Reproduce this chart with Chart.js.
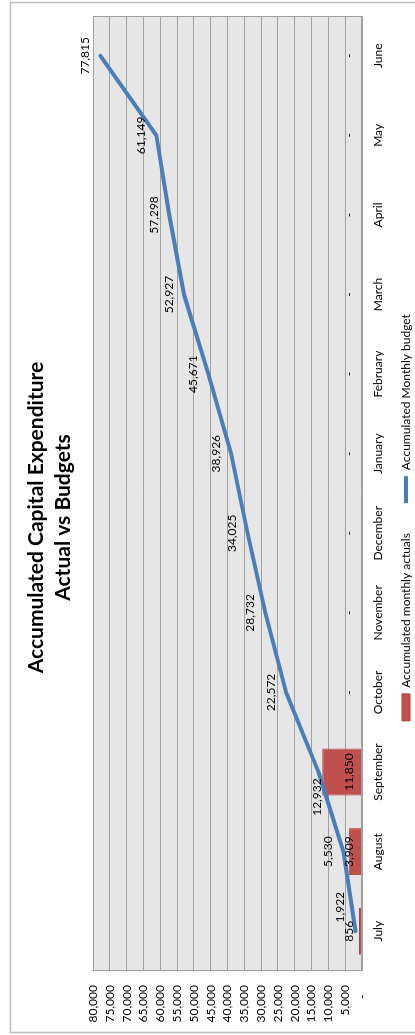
<!DOCTYPE html>
<html><head><meta charset="utf-8">
<script src="https://cdn.jsdelivr.net/npm/chart.js@4.4.1/dist/chart.umd.min.js"></script>
<style>
html,body{margin:0;padding:0;background:#fff;overflow:hidden;width:415px;height:1035px;}
#wrap{position:absolute;left:0;top:0;width:1035px;height:454px;transform-origin:0 0;transform:translate(0,1035px) rotate(-90deg);}
canvas{display:block;}
</style></head><body>
<div id="wrap"><canvas id="c" width="1035" height="454"></canvas></div>
<script>
const categories = ['July','August','September','October','November','December','January','February','March','April','May','June'];
const actuals = [856, 3909, 11850, 0, 0, 0, 0, 0, 0, 0, 0, 0];
const budget = [1922, 5530, 12932, 22572, 28732, 34025, 38926, 45671, 52927, 57298, 61149, 77815];
const valueMin = 0, valueMax = 80000, valueStep = 5000;
const titleLines = ['Accumulated Capital Expenditure', 'Actual vs Budgets'];
const seriesNames = ['Accumulated monthly actuals', 'Accumulated Monthly budget'];
const budgetLabelPos = ['aboveRight','above','left','above','above','above','above','above','above','above','above','above'];

const fmt = v => v === 0 ? '-' : v.toLocaleString('en-US');
const posOffsets = { above: [0, -15], aboveRight: [24, -15], left: [-25, -1] };

const decor = {
  id: 'decor',
  afterLayout(chart) {
    const l = chart.legend;
    if (l) { l.top -= 32; l.bottom -= 32; }
  },
  beforeDraw(chart) {
    const ctx = chart.ctx, a = chart.chartArea;
    ctx.save();
    ctx.fillStyle = '#fff';
    ctx.fillRect(0, 0, chart.width, chart.height);
    ctx.strokeStyle = '#bdbdbd';
    ctx.lineWidth = 1.5;
    ctx.strokeRect(2.5, 10.5, 1030, 480);
    ctx.fillStyle = '#e6e6e6';
    ctx.fillRect(a.left, a.top, a.right - a.left, a.bottom - a.top);
    ctx.restore();
  },
  afterDatasetsDraw(chart) {
    const ctx = chart.ctx, a = chart.chartArea;
    ctx.save();
    ctx.strokeStyle = '#a0a0a0';
    ctx.lineWidth = 1;
    ctx.strokeRect(a.left + 0.5, a.top + 0.5, a.right - a.left - 1, a.bottom - a.top - 1);
    ctx.font = '12px Lato';
    ctx.fillStyle = '#000';
    ctx.textAlign = 'center';
    ctx.textBaseline = 'middle';
    const base = chart.scales.y.getPixelForValue(0);
    chart.getDatasetMeta(1).data.forEach((el, i) => {
      ctx.fillText(fmt(actuals[i]), el.x, base - 13);
    });
    chart.getDatasetMeta(0).data.forEach((el, i) => {
      const o = posOffsets[budgetLabelPos[i]];
      ctx.fillText(fmt(budget[i]), el.x + o[0], el.y + o[1]);
    });
    ctx.restore();
  }
};

new Chart(document.getElementById('c'), {
  type: 'bar',
  data: {
    labels: categories,
    datasets: [
      {
        type: 'line', label: seriesNames[1], data: budget, order: 0,
        borderColor: '#4a7ebb', backgroundColor: '#4a7ebb', borderWidth: 4,
        pointRadius: 0, pointStyle: 'line', tension: 0,
        borderCapStyle: 'round', borderJoinStyle: 'round'
      },
      {
        type: 'bar', label: seriesNames[0], data: actuals, order: 1,
        backgroundColor: '#c0504d', borderColor: '#b0403d', borderWidth: 1,
        pointStyle: 'rect', categoryPercentage: 1, barPercentage: 0.59
      }
    ]
  },
  options: {
    responsive: false, animation: false, devicePixelRatio: 1,
    layout: { padding: { left: 0, right: 0, top: 0, bottom: 0 } },
    scales: {
      x: {
        grid: { display: false, drawTicks: false }, border: { display: false },
        ticks: { font: { family: 'Lato', size: 12 }, color: '#000', padding: 9, maxRotation: 0, autoSkip: false },
        afterFit(s) { s.height = 40; }
      },
      y: {
        min: valueMin, max: valueMax,
        grid: { color: '#a0a0a0', lineWidth: 1, drawTicks: false },
        border: { display: false },
        ticks: { stepSize: valueStep, autoSkip: false, font: { family: 'Lato', size: 12 }, color: '#000', padding: 14,
          callback: v => v === 0 ? '-   ' : v.toLocaleString('en-US') },
        afterFit(s) { s.width = 64; }
      },
      y2: {
        position: 'right', display: true,
        grid: { display: false }, border: { display: false }, ticks: { display: false },
        afterFit(s) { s.width = 16; }
      }
    },
    plugins: {
      title: {
        display: true, text: titleLines, color: '#000',
        font: { family: 'Lato', size: 21, weight: 'bold', lineHeight: '27px' },
        padding: { top: 23, bottom: 16 }
      },
      legend: {
        position: 'bottom',
        labels: {
          font: { family: 'Lato', size: 12 }, color: '#000',
          usePointStyle: true, pointStyleWidth: 27, boxHeight: 8, padding: 30,
          sort: (a, b) => b.datasetIndex - a.datasetIndex
        }
      },
      tooltip: { enabled: false }
    }
  },
  plugins: [decor]
});
</script>
</body></html>
